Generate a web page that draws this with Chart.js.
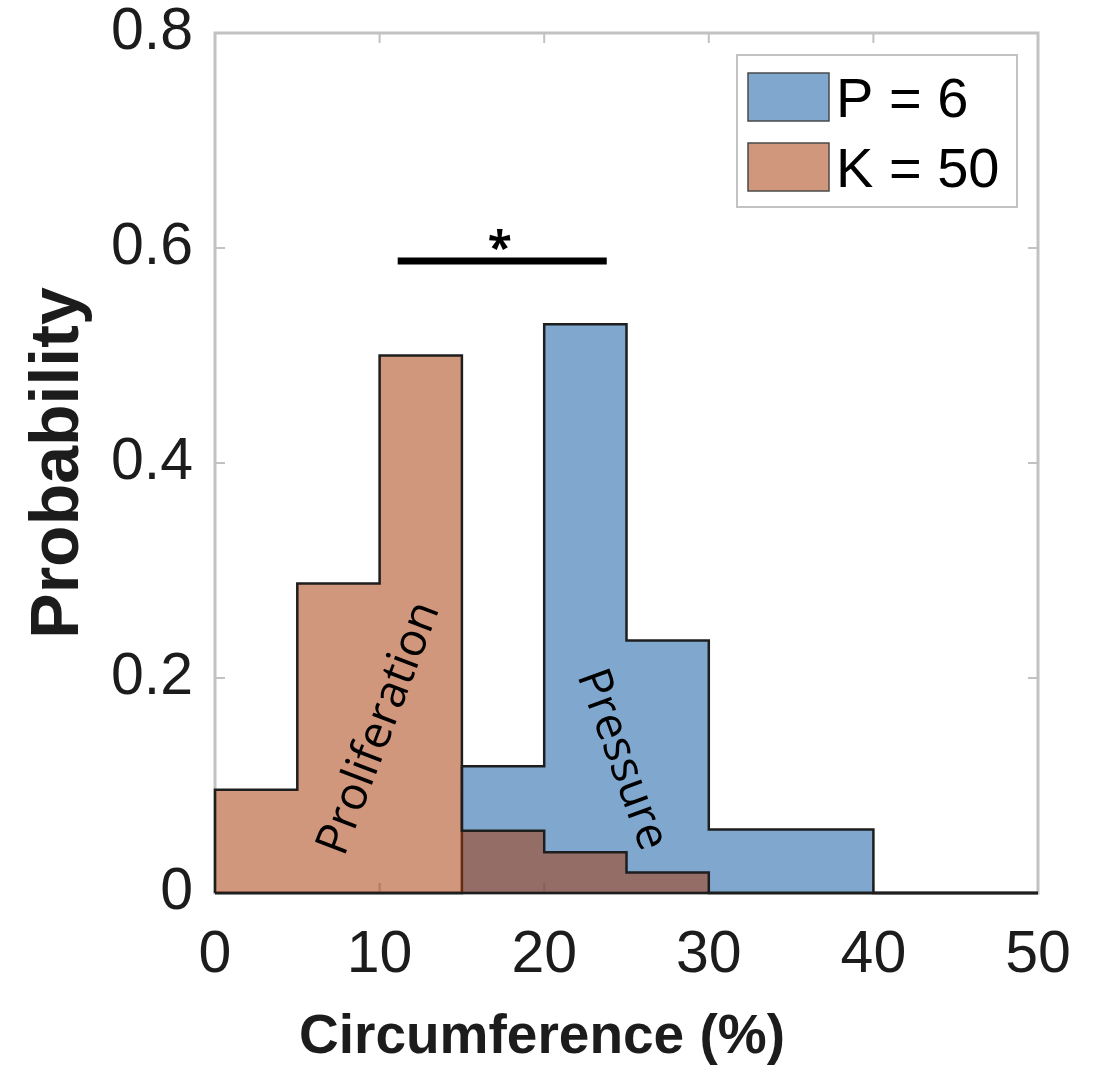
<!DOCTYPE html>
<html lang="en">
<head>
<meta charset="UTF-8">
<title>Circumference histogram</title>
<script src="https://cdn.jsdelivr.net/npm/chart.js@4.4.1/dist/chart.umd.min.js"></script>
<style>
  html, body { margin: 0; padding: 0; background: #fff; }
  #wrap { width: 1094px; height: 1079px; }
</style>
</head>
<body>
<div id="wrap"><canvas id="hist" width="1094" height="1079"></canvas></div>
<script>
// histogram bins, circumference (%)
const binEdges = [0, 5, 10, 15, 20, 25, 30, 35, 40, 45, 50];
// probability in each bin
const pressureProb = [0, 0, 0, 0.118, 0.529, 0.235, 0.059, 0.059, 0, 0];        // P = 6
const proliferationProb = [0.096, 0.288, 0.5, 0.058, 0.038, 0.019, 0, 0, 0, 0]; // K = 50
const seriesLabels = ['P = 6', 'K = 50'];
const xTicks = [0, 10, 20, 30, 40, 50];
const yTicks = [0, 0.2, 0.4, 0.6, 0.8];

const sans = '"Liberation Sans", Arial, Helvetica, sans-serif';
const noteFont = '"Open Sans", "Noto Sans", sans-serif';
const textColor = '#1c1c1c';
const boxColor = '#c2c2c2';

// outline of the histogram as a staircase (value of bin i held from edge i to edge i+1)
function stairPoints(values) {
  const last = binEdges[binEdges.length - 1];
  const pts = [{ x: binEdges[0], y: 0 }];
  values.forEach((v, i) => pts.push({ x: binEdges[i], y: v }));
  pts.push({ x: last, y: values[values.length - 1] });
  pts.push({ x: last, y: 0 });
  return pts;
}

// box with inward ticks (matlab style)
const axesBox = {
  id: 'axesBox',
  beforeDatasetsDraw(chart) {
    const { ctx, chartArea: a, scales: { x, y } } = chart;
    ctx.save();
    ctx.strokeStyle = boxColor;
    ctx.lineWidth = 3;
    ctx.strokeRect(a.left, a.top, a.right - a.left, a.bottom - a.top);
    ctx.lineWidth = 2;
    ctx.beginPath();
    xTicks.forEach(v => {
      const px = x.getPixelForValue(v);
      ctx.moveTo(px, a.bottom); ctx.lineTo(px, a.bottom - 10);
      ctx.moveTo(px, a.top); ctx.lineTo(px, a.top + 10);
    });
    yTicks.forEach(v => {
      const py = y.getPixelForValue(v);
      ctx.moveTo(a.left, py); ctx.lineTo(a.left + 10, py);
      ctx.moveTo(a.right, py); ctx.lineTo(a.right - 10, py);
    });
    ctx.stroke();
    ctx.restore();
  },
  afterDatasetsDraw(chart) {
    const { ctx, chartArea: a } = chart;
    ctx.save();
    ctx.strokeStyle = '#1e1e1e';
    ctx.lineWidth = 2.5;
    ctx.beginPath();
    ctx.moveTo(a.left, a.bottom);
    ctx.lineTo(a.right, a.bottom);
    ctx.stroke();
    ctx.restore();
  }
};

// significance bar, rotated labels, x title
const notes = {
  id: 'notes',
  afterDatasetsDraw(chart) {
    const { ctx, scales: { x, y } } = chart;
    ctx.save();
    ctx.fillStyle = '#000';
    ctx.strokeStyle = '#000';
    ctx.lineWidth = 7;
    ctx.beginPath();
    ctx.moveTo(x.getPixelForValue(11.1), y.getPixelForValue(0.588));
    ctx.lineTo(x.getPixelForValue(23.8), y.getPixelForValue(0.588));
    ctx.stroke();

    ctx.textAlign = 'center';
    ctx.textBaseline = 'middle';
    ctx.font = 'bold 44px ' + noteFont;
    ctx.fillText('*', x.getPixelForValue(17.3), y.getPixelForValue(0.598));

    ctx.font = '46px ' + noteFont;
    ctx.save();
    ctx.translate(x.getPixelForValue(10.0), y.getPixelForValue(0.153));
    ctx.rotate(-69 * Math.PI / 180);
    ctx.fillText('Proliferation', 0, 0);
    ctx.restore();

    ctx.save();
    ctx.translate(x.getPixelForValue(24.7), y.getPixelForValue(0.124));
    ctx.rotate(70 * Math.PI / 180);
    ctx.fillText('Pressure', 0, 0);
    ctx.restore();

    ctx.fillStyle = textColor;
    ctx.font = 'bold 55px ' + sans;
    ctx.textBaseline = 'alphabetic';
    ctx.fillText('Circumference (%)', 542, 1053);
    ctx.restore();
  }
};

// legend box in the upper right corner
const boxLegend = {
  id: 'boxLegend',
  afterDraw(chart) {
    const { ctx, chartArea: a } = chart;
    const right = a.right - 21, top = a.top + 22;
    const left = right - 280, bottom = top + 152;
    ctx.save();
    ctx.fillStyle = '#fff';
    ctx.fillRect(left, top, right - left, bottom - top);
    ctx.strokeStyle = boxColor;
    ctx.lineWidth = 2;
    ctx.strokeRect(left, top, right - left, bottom - top);
    ctx.font = '56px ' + sans;
    ctx.textBaseline = 'alphabetic';
    ctx.textAlign = 'left';
    [0, 1].forEach(i => {
      const ds = chart.data.datasets[i];
      const sy = top + 18 + i * 70;
      ctx.fillStyle = ds.backgroundColor;
      ctx.fillRect(left + 11, sy, 81, 48);
      ctx.strokeStyle = '#4a4a4a';
      ctx.lineWidth = 1.5;
      ctx.strokeRect(left + 11, sy, 81, 48);
      ctx.fillStyle = '#000';
      ctx.fillText(ds.label, left + 99, sy + 44);
    });
    ctx.restore();
  }
};

new Chart(document.getElementById('hist'), {
  type: 'line',
  data: {
    datasets: [{
      label: seriesLabels[0],
      data: stairPoints(pressureProb),
      backgroundColor: 'rgba(11, 88, 163, 0.52)',
      borderColor: '#1e1e1e',
      borderWidth: 2.5,
      stepped: true,
      fill: 'origin',
      pointRadius: 0,
      order: 1,
      clip: 6
    }, {
      label: seriesLabels[1],
      data: stairPoints(proliferationProb),
      backgroundColor: 'rgba(167, 55, 5, 0.52)',
      borderColor: '#1e1e1e',
      borderWidth: 2.5,
      stepped: true,
      fill: 'origin',
      pointRadius: 0,
      order: 0,
      clip: 6
    }]
  },
  options: {
    responsive: false,
    animation: false,
    devicePixelRatio: 1,
    layout: { padding: { top: 33, right: 56, left: 0, bottom: 0 } },
    plugins: {
      legend: { display: false },
      tooltip: { enabled: false }
    },
    scales: {
      x: {
        type: 'linear',
        min: 0,
        max: 50,
        afterBuildTicks: s => { s.ticks = xTicks.map(v => ({ value: v })); },
        afterFit: s => { s.height = 186; s.paddingLeft = 0; s.paddingRight = 0; },
        grid: { display: false, drawTicks: false },
        border: { display: false },
        ticks: {
          font: { family: sans, size: 59 },
          color: textColor,
          padding: 27,
          maxRotation: 0
        }
      },
      y: {
        min: 0,
        max: 0.8,
        afterBuildTicks: s => { s.ticks = yTicks.map(v => ({ value: v })); },
        afterFit: s => { s.width = 215; s.paddingTop = 0; s.paddingBottom = 0; },
        grid: { display: false, drawTicks: false },
        border: { display: false },
        ticks: {
          font: { family: sans, size: 59 },
          color: textColor,
          padding: 22,
          callback: v => (v === 0 ? '0' : v.toFixed(1))
        },
        title: {
          display: true,
          text: 'Probability',
          font: { family: sans, size: 68, weight: 'bold' },
          color: textColor,
          padding: { top: 18, bottom: 0 }
        }
      }
    }
  },
  plugins: [axesBox, notes, boxLegend]
});
</script>
</body>
</html>
